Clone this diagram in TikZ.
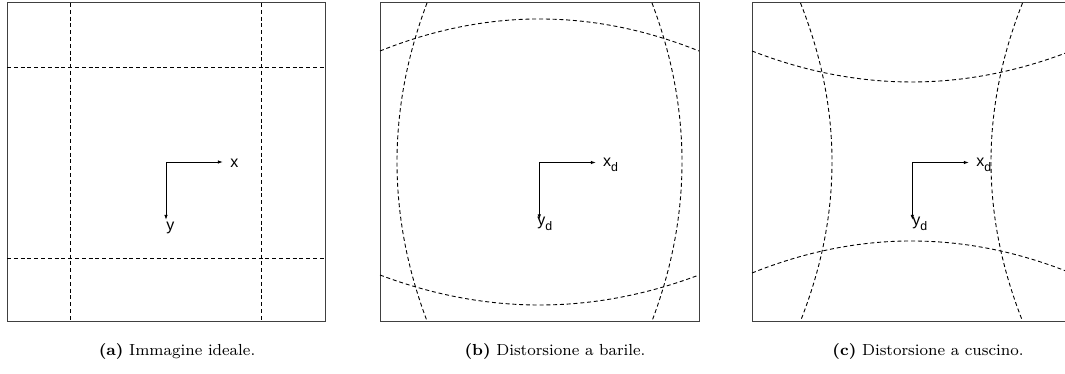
\documentclass[tikz,border=0pt]{standalone}
\usepackage{fontspec}
\newfontfamily\lblfont{Liberation Sans}
\usetikzlibrary{arrows.meta}
\newcommand{\subd}[1]{#1\raisebox{-2.6pt}{\fontsize{6.2}{7}\selectfont d}}
\begin{document}
\begin{tikzpicture}[x=0.5pt,y=-0.5pt,
  frame/.style={draw=black!75, line width=0.5pt},
  grid/.style={draw=black, line width=0.45pt, dash pattern=on 2pt off 1.4pt},
  axis/.style={draw=black, line width=0.5pt, -{Latex[length=2.6pt,width=1.8pt]}},
  lbl/.style={inner sep=0pt, anchor=base west, font=\lblfont\fontsize{8}{9}\selectfont},
  captext/.style={inner sep=0pt, anchor=base, font=\fontsize{8}{10}\selectfont}]
\useasboundingbox (0,0) rectangle (1065,374);
% ---------- (a) ideal ----------
\draw[frame] (7,3) rectangle (325,321);
\draw[grid] (70,3) -- (70,321);
\draw[grid] (261,3) -- (261,321);
\draw[grid] (7,67) -- (325,67);
\draw[grid] (7,258) -- (325,258);
\coordinate (oa) at (166,162);
\coordinate (xa) at (223,162);
\coordinate (ya) at (166,220);
\draw[axis] (oa) -- (xa);
\draw[axis] (oa) -- (ya);
\node[lbl] (lxa) at (230,168) {x};
\node[lbl] (lya) at (166,230) {y};
\node[captext] (capa) at (177,355.7) {\textbf{(a)} Immagine ideale.};
% ---------- (b) barrel ----------
\draw[frame] (380,3) rectangle (699,321);
\draw[grid] (427,3) .. controls (387,109) and (387,215) .. (427,321);
\draw[grid] (652,3) .. controls (692,109) and (692,215) .. (652,321);
\draw[grid] (380,51) .. controls (486.3,8.3) and (592.7,8.3) .. (699,51);
\draw[grid] (380,275) .. controls (486.3,315) and (592.7,315) .. (699,275);
\coordinate (ob) at (539.3,162.5);
\coordinate (xb) at (596,162.5);
\coordinate (yb) at (539.3,219.5);
\draw[axis] (ob) -- (xb);
\draw[axis] (ob) -- (yb);
\node[lbl] (lxb) at (602.7,166.7) {\subd{x}};
\node[lbl] (lyb) at (537,225) {\subd{y}};
\node[captext] (capb) at (555,355.7) {\textbf{(b)} Distorsione a barile.};
% ---------- (c) pincushion ----------
\draw[frame] (752,3) rectangle (1071,321);
\draw[grid] (800.5,3) .. controls (842.5,109) and (842.5,215) .. (800.5,321);
\draw[grid] (1022.5,3) .. controls (980.5,109) and (980.5,215) .. (1022.5,321);
\draw[grid] (752,51) .. controls (858.3,92.3) and (964.7,92.3) .. (1071,51);
\draw[grid] (752,273) .. controls (858.3,230.3) and (964.7,230.3) .. (1071,273);
\coordinate (oc) at (912.3,162.5);
\coordinate (xc) at (969,162.5);
\coordinate (yc) at (912.3,220);
\draw[axis] (oc) -- (xc);
\draw[axis] (oc) -- (yc);
\node[lbl] (lxc) at (976,166.7) {\subd{x}};
\node[lbl] (lyc) at (912,225) {\subd{y}};
\node[captext] (capc) at (928,355.7) {\textbf{(c)} Distorsione a cuscino.};
\end{tikzpicture}
\end{document}
